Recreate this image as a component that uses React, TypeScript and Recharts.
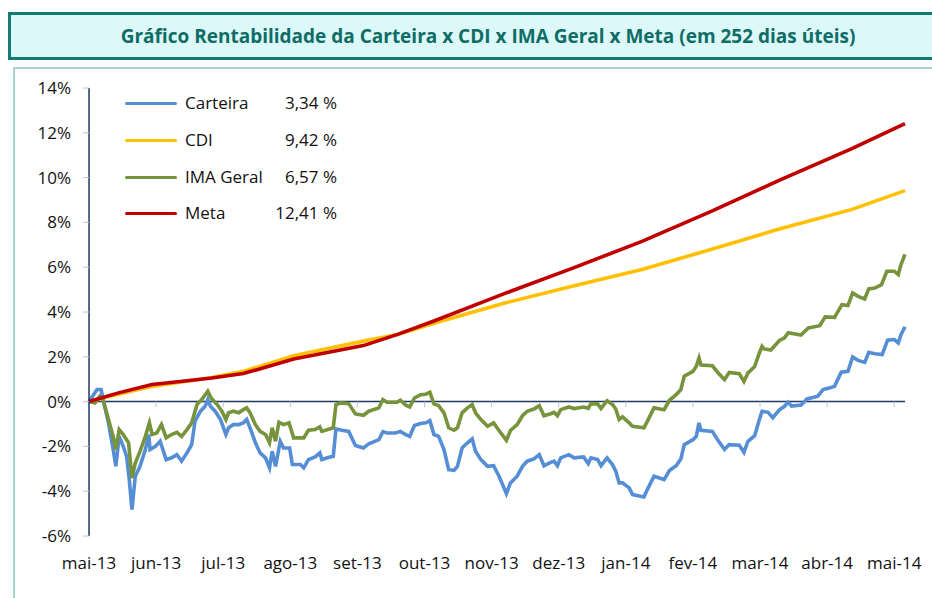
import { LineChart, Line, XAxis, YAxis, ReferenceLine } from 'recharts';

const MESES = ['mai-13', 'jun-13', 'jul-13', 'ago-13', 'set-13', 'out-13', 'nov-13', 'dez-13', 'jan-14', 'fev-14', 'mar-14', 'abr-14', 'mai-14'];
const Y_TICKS = [-6, -4, -2, 0, 2, 4, 6, 8, 10, 12, 14];
const NOMES = ['Carteira', 'CDI', 'IMA Geral', 'Meta'];
const RENTABILIDADE = ['3,34 %', '9,42 %', '6,57 %', '12,41 %'];
const CORES = ['#558ED5', '#FFC000', '#77933C', '#C00000'];

// [mês desde mai-13, rentabilidade acumulada %]
const CARTEIRA: [number, number][] = [
  [0, 0], [0.12, 0.54], [0.18, 0.54], [0.21, 0.09], [0.29, -0.95], [0.36, -2.14], [0.4, -2.89], [0.45, -1.55],
  [0.51, -2.0], [0.56, -2.44], [0.6, -3.48], [0.64, -4.82], [0.69, -3.33], [0.76, -2.89], [0.84, -2.14], [0.89, -1.47],
  [0.91, -2.14], [0.99, -2.0], [1.06, -1.77], [1.15, -2.59], [1.23, -2.51], [1.31, -2.37], [1.38, -2.66], [1.46, -2.29],
  [1.53, -1.92], [1.58, -0.88], [1.66, -0.43], [1.73, -0.21], [1.77, 0.09], [1.81, -0.21], [1.88, -0.43], [1.96, -0.8],
  [2.04, -1.47], [2.08, -1.17], [2.15, -1.03], [2.23, -1.03], [2.3, -0.95], [2.35, -0.8], [2.4, -1.17], [2.48, -1.84],
  [2.55, -2.29], [2.63, -2.51], [2.69, -2.96], [2.73, -2.22], [2.78, -2.89], [2.85, -1.77], [2.9, -2.07], [2.99, -2.07],
  [3.03, -2.81], [3.15, -2.81], [3.2, -2.96], [3.27, -2.59], [3.37, -2.47], [3.44, -2.29], [3.47, -2.59], [3.55, -2.51],
  [3.64, -2.44], [3.68, -1.22], [3.77, -1.28], [3.87, -1.33], [3.97, -1.96], [4.09, -2.07], [4.17, -1.88], [4.32, -1.7],
  [4.38, -1.34], [4.44, -1.4], [4.57, -1.4], [4.64, -1.33], [4.72, -1.47], [4.78, -1.55], [4.85, -1.07], [4.94, -0.98],
  [5.02, -0.95], [5.08, -0.85], [5.14, -1.47], [5.21, -1.55], [5.29, -2.14], [5.36, -3.04], [5.44, -3.07], [5.49, -2.89],
  [5.56, -2.07], [5.64, -1.84], [5.71, -1.67], [5.76, -2.22], [5.84, -2.59], [5.94, -2.89], [6.03, -2.86], [6.11, -3.33],
  [6.22, -4.11], [6.28, -3.63], [6.38, -3.33], [6.46, -2.89], [6.53, -2.66], [6.63, -2.56], [6.71, -2.37], [6.78, -2.86],
  [6.88, -2.71], [6.93, -2.66], [6.98, -2.86], [7.03, -2.51], [7.15, -2.37], [7.23, -2.51], [7.37, -2.47], [7.44, -2.77],
  [7.48, -2.51], [7.58, -2.59], [7.63, -2.86], [7.72, -2.51], [7.8, -2.81], [7.85, -3.11], [7.9, -3.63], [7.95, -3.63],
  [8.05, -3.85], [8.1, -4.15], [8.18, -4.2], [8.27, -4.26], [8.32, -3.93], [8.42, -3.33], [8.57, -3.48], [8.65, -3.08],
  [8.75, -2.86], [8.82, -2.56], [8.87, -1.92], [9.0, -1.7], [9.05, -1.55], [9.09, -0.95], [9.12, -1.28], [9.29, -1.33],
  [9.37, -1.72], [9.47, -2.14], [9.54, -1.92], [9.69, -1.95], [9.76, -2.26], [9.82, -1.77], [9.92, -1.52], [9.99, -0.8],
  [10.03, -0.43], [10.12, -0.48], [10.19, -0.72], [10.29, -0.36], [10.36, -0.22], [10.42, -0.03], [10.47, -0.2], [10.61, -0.15],
  [10.7, 0.12], [10.86, 0.24], [10.94, 0.54], [11.03, 0.61], [11.11, 0.68], [11.21, 1.31], [11.31, 1.35], [11.38, 1.99],
  [11.46, 1.84], [11.56, 1.75], [11.62, 2.2], [11.71, 2.14], [11.82, 2.1], [11.9, 2.74], [12.0, 2.77], [12.06, 2.62],
  [12.1, 2.99], [12.16, 3.34],
];

const CDI: [number, number][] = [
  [0, 0], [0.44, 0.33], [0.94, 0.68], [1.43, 0.9], [1.83, 1.08], [2.3, 1.35], [3.05, 2.05], [4.09, 2.7], [4.6, 3.0],
  [5.14, 3.5], [6.17, 4.38], [7.2, 5.15], [8.24, 5.9], [9.28, 6.8], [10.3, 7.72], [11.36, 8.57], [12.16, 9.42],
];

const IMA_GERAL: [number, number][] = [
  [0, 0], [0.09, -0.06], [0.16, 0.24], [0.21, 0.09], [0.29, -0.8], [0.36, -1.55], [0.4, -2.14], [0.45, -1.25],
  [0.51, -1.47], [0.59, -1.84], [0.64, -3.41], [0.69, -2.74], [0.76, -2.22], [0.84, -1.55], [0.9, -0.95], [0.94, -1.47],
  [1.01, -1.4], [1.08, -1.03], [1.15, -1.62], [1.23, -1.47], [1.31, -1.37], [1.38, -1.55], [1.46, -1.25], [1.53, -0.95],
  [1.61, -0.13], [1.68, 0.09], [1.77, 0.46], [1.82, 0.16], [1.91, -0.13], [1.98, -0.43], [2.04, -0.8], [2.08, -0.5],
  [2.15, -0.43], [2.23, -0.5], [2.3, -0.36], [2.35, -0.28], [2.4, -0.5], [2.48, -1.03], [2.55, -1.33], [2.63, -1.47],
  [2.69, -1.84], [2.73, -1.17], [2.78, -1.77], [2.83, -0.92], [2.9, -1.03], [2.98, -0.95], [3.05, -1.62], [3.2, -1.62],
  [3.27, -1.28], [3.37, -1.25], [3.44, -1.13], [3.47, -1.33], [3.64, -1.17], [3.68, -0.13], [3.75, -0.06], [3.87, -0.09],
  [3.97, -0.55], [4.09, -0.61], [4.17, -0.43], [4.32, -0.28], [4.38, 0.09], [4.44, -0.03], [4.59, -0.03], [4.64, 0.06],
  [4.72, -0.16], [4.78, -0.24], [4.85, 0.16], [4.94, 0.31], [5.02, 0.33], [5.08, 0.42], [5.14, -0.1], [5.21, -0.18],
  [5.29, -0.5], [5.36, -1.17], [5.44, -1.28], [5.49, -1.17], [5.56, -0.5], [5.64, -0.28], [5.71, -0.13], [5.76, -0.5],
  [5.84, -0.8], [5.94, -1.1], [6.03, -0.95], [6.11, -1.29], [6.22, -1.73], [6.28, -1.29], [6.38, -1.03], [6.46, -0.63],
  [6.53, -0.43], [6.63, -0.33], [6.71, -0.18], [6.78, -0.63], [6.88, -0.54], [6.93, -0.48], [6.98, -0.63], [7.03, -0.36],
  [7.15, -0.24], [7.23, -0.31], [7.37, -0.24], [7.44, -0.3], [7.48, -0.09], [7.58, -0.1], [7.63, -0.31], [7.72, 0.04],
  [7.8, -0.13], [7.85, -0.33], [7.9, -0.8], [7.95, -0.68], [8.05, -0.95], [8.1, -1.1], [8.18, -1.13], [8.27, -1.17],
  [8.32, -0.88], [8.42, -0.28], [8.57, -0.36], [8.65, 0.06], [8.75, 0.31], [8.82, 0.54], [8.87, 1.13], [9.0, 1.35],
  [9.05, 1.58], [9.09, 1.95], [9.12, 1.63], [9.29, 1.6], [9.37, 1.3], [9.47, 0.98], [9.54, 1.3], [9.69, 1.25],
  [9.76, 0.9], [9.82, 1.28], [9.92, 1.57], [9.99, 2.17], [10.03, 2.47], [10.06, 2.35], [10.16, 2.3], [10.29, 2.73],
  [10.36, 2.84], [10.42, 3.07], [10.61, 2.97], [10.72, 3.29], [10.89, 3.39], [10.97, 3.78], [11.11, 3.76], [11.22, 4.33],
  [11.31, 4.29], [11.38, 4.85], [11.46, 4.7], [11.56, 4.58], [11.62, 5.03], [11.71, 5.07], [11.81, 5.22], [11.89, 5.82],
  [12.0, 5.82], [12.06, 5.67], [12.1, 6.12], [12.16, 6.57],
];

const META: [number, number][] = [
  [0, 0], [0.44, 0.39], [0.94, 0.76], [1.43, 0.92], [1.83, 1.05], [2.3, 1.25], [3.05, 1.9], [4.09, 2.5], [4.6, 3.0],
  [5.14, 3.6], [6.17, 4.8], [7.2, 5.95], [8.24, 7.15], [9.28, 8.5], [10.3, 9.9], [11.36, 11.28], [12.16, 12.41],
];

const SERIES = [CARTEIRA, CDI, IMA_GERAL, META];
const toRows = (pts: [number, number][]) => pts.map(([m, v]) => ({ m, v }));

const FONT = "'Open Sans', sans-serif";
const LEGEND_Y = [103, 140, 177, 213];

export default function App() {
  return (
    <div style={{ position: 'absolute', left: 0, top: 0, width: 932, height: 598, overflow: 'hidden', background: '#fff', fontFamily: FONT }}>
      <div style={{
        position: 'absolute', left: 8, top: 12, width: 954, height: 42, border: '3px solid #157A72',
        background: '#DCF8F8', color: '#0F6D66', fontWeight: 700, fontSize: 19, lineHeight: '42px', textAlign: 'center',
      }}>
        Gráfico Rentabilidade da Carteira x CDI x IMA Geral x Meta (em 252 dias úteis)
      </div>
      <div style={{ position: 'absolute', left: 13, top: 67, width: 940, height: 560, borderLeft: '2px solid #A9D3D3', borderTop: '2px solid #A9D3D3' }} />

      <div style={{ position: 'absolute', left: 0, top: 0 }}>
        <LineChart width={932} height={598} margin={{ top: 88, right: 27, bottom: 0, left: 0 }}>
          <XAxis
            dataKey="m" type="number" domain={[0, 12.16]} ticks={MESES.map((_, i) => i)}
            tickFormatter={(i: number) => MESES[i]} axisLine={false} tickLine={false} tickSize={0} tickMargin={21}
            height={62} interval={0} allowDuplicatedCategory={false}
            tick={{ fill: '#111', fontSize: 17, fontFamily: FONT }}
          />
          <YAxis
            type="number" domain={[-6, 14]} ticks={Y_TICKS} tickFormatter={(v: number) => `${v}%`} width={89}
            axisLine={{ stroke: '#1F3864', strokeWidth: 1.5 }} tickLine={{ stroke: '#B8C4D4' }} tickSize={6} tickMargin={12}
            interval={0} tick={{ fill: '#111', fontSize: 17, fontFamily: FONT }}
          />
          <ReferenceLine y={0} stroke="#1F3864" strokeWidth={1.5} />
          {MESES.slice(1).map((_, i) => (
            <ReferenceLine key={i} segment={[{ x: i + 1, y: 0 }, { x: i + 1, y: -0.25 }]} stroke="#B8C4D4" />
          ))}
          {SERIES.map((pts, i) => (
            <Line
              key={NOMES[i]} data={toRows(pts)} dataKey="v" name={NOMES[i]} stroke={CORES[i]} strokeWidth={3.6}
              dot={false} type="linear" isAnimationActive={false}
            />
          ))}
        </LineChart>
      </div>

      {NOMES.map((n, i) => (
        <div key={n} style={{ position: 'absolute', left: 125, top: LEGEND_Y[i] - 12, height: 24, width: 212, fontSize: 17, color: '#111' }}>
          <div style={{ position: 'absolute', left: 0, top: 10.5, width: 52, height: 3.5, background: CORES[i], borderRadius: 2 }} />
          <span style={{ position: 'absolute', left: 60, top: 0, lineHeight: '24px' }}>{n}</span>
          <span style={{ position: 'absolute', right: 0, top: 0, lineHeight: '24px' }}>{RENTABILIDADE[i]}</span>
        </div>
      ))}
    </div>
  );
}
